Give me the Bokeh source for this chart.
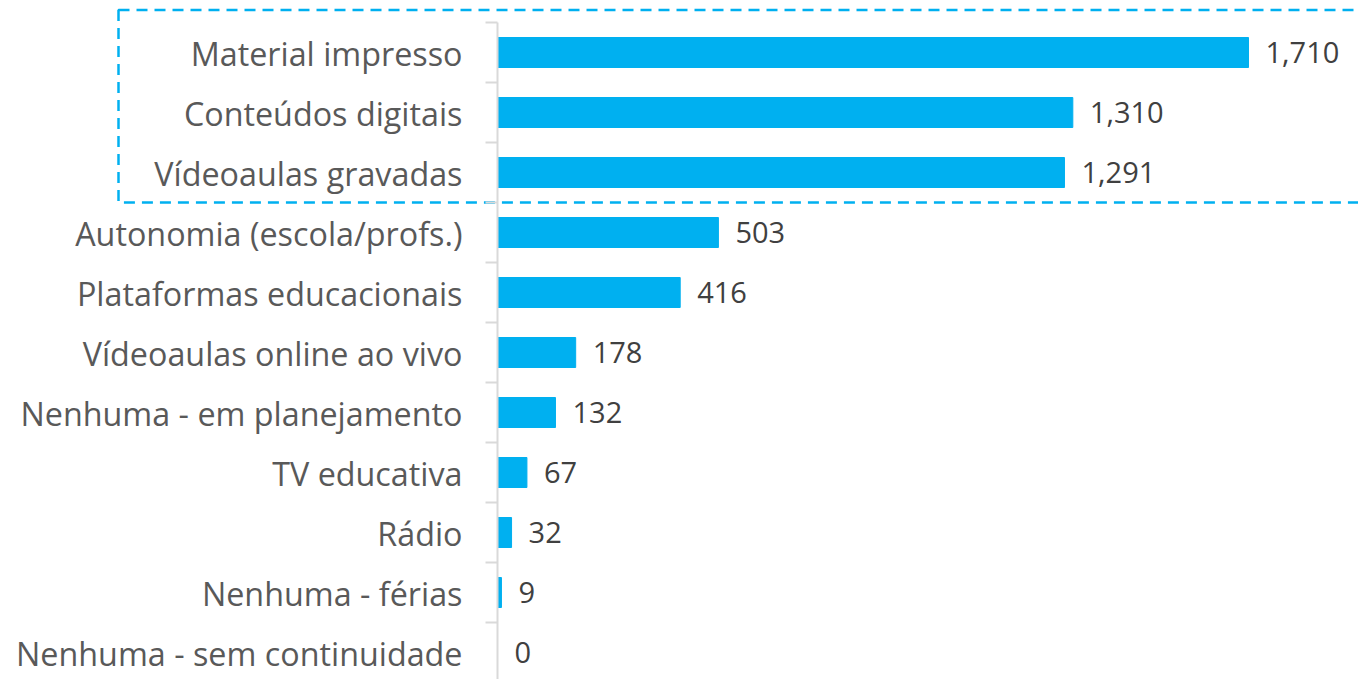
from bokeh.plotting import figure
from bokeh.models import ColumnDataSource, Range1d
from bokeh.core.properties import value
from bokeh.embed import file_html
from bokeh.resources import INLINE

categories = ["Material impresso", "Conteúdos digitais", "Vídeoaulas gravadas",
              "Autonomia (escola/profs.)", "Plataformas educacionais",
              "Vídeoaulas online ao vivo", "Nenhuma - em planejamento",
              "TV educativa", "Rádio", "Nenhuma - férias", "Nenhuma - sem continuidade"]
values = [1710, 1310, 1291, 503, 416, 178, 132, 67, 32, 9, 0]
highlighted = 3  # top categories inside the dashed box

n = len(categories)
ys = [n - 1 - i for i in range(n)]
labels = [f"{v:,}" for v in values]

src = ColumnDataSource(dict(y=ys, v=values, lbl=labels, cat=categories))

BLUE = "#00B0F0"
GREY = "#d9d9d9"
W, H = 1358, 679
axis_x = 497          # page x of the value axis (0)
cat_top = 22          # page y of the top category boundary
px_per_cat = 60.0
pxu = 751 / 1710.0    # pixels per value unit

x_start = -axis_x / pxu
x_end = (W - axis_x) / pxu
y_end = n - 0.5 + cat_top / px_per_cat
y_start = n - 0.5 - (H - cat_top) / px_per_cat

p = figure(width=W, height=H, output_backend="svg", toolbar_location=None,
           x_axis_location=None, y_axis_location=None,
           x_range=Range1d(x_start, x_end), y_range=Range1d(y_start, y_end),
           min_border=0)
p.outline_line_color = None
p.xgrid.visible = False
p.ygrid.visible = False
p.background_fill_color = "white"
p.border_fill_color = "white"

# dashed highlight box around the top categories
box_bottom = n - 0.5 - highlighted
p.quad(left=[-379 / pxu], right=[x_end + 50], top=[n - 0.5 + 12.5 / px_per_cat],
       bottom=[box_bottom], fill_color=None, line_color=BLUE, line_width=2.5,
       line_dash="11 7")

# bars
p.hbar(y="y", right="v", left=0, height=0.5, color=BLUE, source=src)

# category axis line and ticks between categories
bounds = [k + 0.5 for k in range(-1, n)]
p.segment(x0=[0], y0=[n - 0.5], x1=[0], y1=[-0.7], line_color=GREY, line_width=2)
p.segment(x0=[0] * len(bounds), y0=bounds, x1=[-12 / pxu] * len(bounds), y1=bounds,
          line_color=GREY, line_width=2)

# category labels
p.text(x=0, y="y", text="cat", x_offset=-35, text_baseline="middle",
       text_align="right", text_font=value("Open Sans"),
       text_font_size=value("32.3px"), text_color="#595959", source=src)

# value labels
p.text(x="v", y="y", text="lbl", x_offset=17, text_baseline="middle",
       text_align="left", text_font=value("Open Sans"),
       text_font_size=value("29px"), text_color="#404040", source=src)

open("out.html", "w").write(file_html(p, INLINE))
